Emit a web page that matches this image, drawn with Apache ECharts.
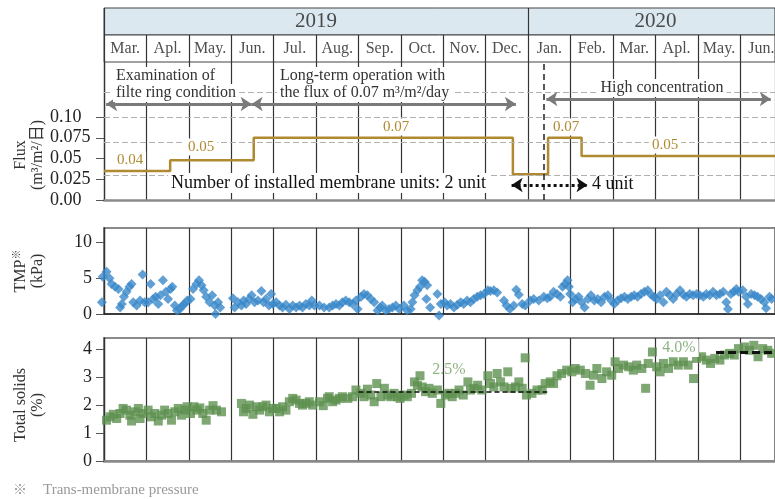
<!DOCTYPE html>
<html>
<head>
<meta charset="utf-8">
<script src="https://cdn.jsdelivr.net/npm/echarts@6/dist/echarts.min.js"></script>
<style>
  html, body { margin: 0; padding: 0; background: #fff; }
  #chart { width: 775px; height: 499px; }
</style>
</head>
<body>
<div id="chart"></div>
<script>
  // x unit = months from 2019 Mar. 1
  const MAXM = 15.82;
  const years = ['2019', '2020'];
  const yearCenters = [5, 13];
  const months = ['Mar.', 'Apl.', 'May.', 'Jun.', 'Jul.', 'Aug.', 'Sep.', 'Oct.', 'Nov.', 'Dec.',
                  'Jan.', 'Feb.', 'Mar.', 'Apl.', 'May.', 'Jun.'];

  // flux step line (m3/m2/day)
  const fluxX = [0, 1.56, 3.53, 9.64, 10.47, 11.26, 15.82];
  const fluxV = [0.035, 0.048, 0.075, 0.031, 0.075, 0.053, 0.053];
  const fluxTicks = [0, 0.025, 0.05, 0.075, 0.1];
  const fluxTickText = ['0.00', '0.025', '0.05', '0.075', '0.10'];

  // TMP (kPa)
  const tmpPoints = [
    [-0.05,1.65],[-0.03,5.2],[0.06,5.9],[0.13,5.0],[0.18,4.2],[0.26,3.8],[0.34,3.5],[0.38,0.9],[0.42,1.4],
    [0.47,2.4],[0.53,3.1],[0.60,3.8],[0.65,4.2],[0.69,1.65],[0.77,1.2],[0.85,1.9],[0.91,5.5],[0.96,1.65],
    [1.04,1.65],[1.10,4.2],[1.16,2.1],[1.22,2.4],[1.28,1.4],[1.33,2.6],[1.39,4.7],[1.46,3.1],[1.51,2.1],
    [1.57,3.5],[1.61,3.8],[1.67,1.2],[1.72,0.5],[1.79,0.7],[1.85,1.2],[1.90,1.4],[1.96,1.9],
    [2.04,2.1],[2.10,3.5],[2.18,4.2],[2.24,4.7],[2.30,4.0],[2.35,3.3],[2.41,2.4],[2.49,1.65],[2.55,2.6],
    [2.61,1.2],[2.63,0],[2.69,1.65],[2.74,0.9],
    [3.04,2.2],[3.08,0.9],[3.16,1.65],[3.24,1.2],[3.29,1.9],[3.35,1.4],[3.42,2.1],[3.48,2.6],[3.55,1.65],
    [3.63,1.9],[3.71,3.2],[3.76,1.65],[3.82,2.1],[3.89,1.2],[3.94,2.8],[3.98,1.4],
    [4.06,1.65],[4.14,1.2],[4.21,0.9],[4.29,1.3],[4.37,0.7],[4.45,1.2],[4.53,0.9],[4.61,1.2],[4.68,0.9],
    [4.76,1.4],[4.84,1.2],[4.90,1.9],[4.96,1.2],
    [5.08,1.2],[5.19,0.9],[5.31,0.9],[5.39,1.2],[5.47,1.4],[5.55,1.2],[5.62,1.65],[5.70,1.9],[5.78,1.65],
    [5.86,1.4],[5.94,1.9],[5.98,0.7],
    [6.06,2.4],[6.13,2.8],[6.21,2.6],[6.29,2.1],[6.37,1.65],[6.45,0.5],[6.51,0.9],[6.56,1.2],[6.64,0.5],
    [6.72,0.7],[6.80,0.9],[6.88,1.2],[6.96,0.7],
    [7.07,1.2],[7.15,0.5],[7.23,0.7],[7.27,1.65],[7.32,2.6],[7.39,3.3],[7.45,3.8],[7.50,4.7],[7.56,4.5],
    [7.62,4.0],[7.60,2.1],[7.69,0.9],[7.86,2.8],[7.90,-0.2],[7.94,1.4],
    [8.03,1.65],[8.09,1.2],[8.17,1.4],[8.25,0.9],[8.33,1.3],[8.41,1.65],[8.48,1.4],[8.56,1.9],[8.64,1.65],
    [8.72,2.1],[8.80,2.4],[8.88,2.6],[8.96,2.8],
    [9.05,3.3],[9.11,3.2],[9.19,3.3],[9.27,3.0],[9.43,1.9],[9.49,1.2],[9.57,0.7],[9.66,1.2],[9.72,3.4],
    [9.78,2.7],[9.86,1.4],[9.93,1.2],
    [10.05,1.9],[10.13,2.1],[10.25,1.9],[10.37,2.4],[10.45,2.2],[10.52,2.4],[10.60,3.1],[10.68,2.8],
    [10.76,2.4],[10.81,3.8],[10.87,4.2],[10.93,4.7],[10.96,3.8],[10.99,2.8],
    [11.05,1.65],[11.11,2.1],[11.19,2.4],[11.26,1.65],[11.33,0.9],[11.41,2.1],[11.48,2.6],[11.56,1.9],
    [11.64,2.1],[11.72,1.65],[11.80,2.4],[11.88,2.6],[11.96,1.9],
    [12.03,1.4],[12.11,1.9],[12.19,2.2],[12.27,2.4],[12.35,2.1],[12.43,2.4],[12.50,2.6],[12.58,2.4],
    [12.66,2.8],[12.74,3.1],[12.82,3.3],[12.90,2.7],[12.96,2.4],
    [13.03,2.1],[13.11,2.6],[13.19,1.65],[13.26,3.1],[13.34,2.6],[13.42,2.1],[13.50,2.8],[13.58,3.3],
    [13.66,2.7],[13.73,2.4],[13.81,2.8],[13.89,2.6],[13.97,2.8],
    [14.05,2.6],[14.13,2.4],[14.20,2.8],[14.28,2.6],[14.36,3.1],[14.44,2.6],[14.52,2.8],[14.60,3.1],
    [14.67,1.65],[14.71,0.7],[14.78,2.8],[14.85,3.1],[14.91,3.5],[14.96,3.1],
    [15.06,3.3],[15.14,2.4],[15.18,1.4],[15.26,2.8],[15.34,2.6],[15.41,2.4],[15.49,2.1],[15.57,1.65],
    [15.61,0.8],[15.69,2.4],[15.74,2.1]
  ];
  const tmpTicks = [0, 5, 10];

  // Total solids (%)
  const tsPoints = [
    [0.06,1.46],[0.14,1.58],[0.22,1.67],[0.30,1.52],[0.38,1.70],[0.45,1.88],[0.53,1.82],[0.61,1.64],
    [0.65,1.43],[0.73,1.76],[0.81,1.88],[0.85,1.52],[0.92,1.70],
    [1.04,1.82],[1.12,1.58],[1.20,1.70],[1.28,1.43],[1.36,1.64],[1.43,1.82],[1.51,1.70],[1.59,1.46],
    [1.67,1.76],[1.75,1.88],[1.83,1.64],[1.90,1.82],[1.96,1.94],
    [2.04,1.70],[2.12,1.94],[2.19,1.82],[2.26,1.90],[2.33,1.70],[2.41,1.46],[2.49,1.82],[2.57,1.98],
    [2.65,1.82],[2.77,1.76],
    [3.24,2.06],[3.29,1.76],[3.35,1.88],[3.43,2.00],[3.51,1.67],[3.59,1.94],[3.67,1.82],[3.74,1.94],
    [3.82,2.00],[3.90,1.76],[3.98,1.88],
    [4.06,1.88],[4.14,1.76],[4.21,1.94],[4.29,1.82],[4.37,2.12],[4.45,2.24],[4.53,2.18],[4.61,2.06],
    [4.68,2.00],[4.76,2.06],[4.84,2.12],[4.92,2.00],
    [5.08,2.12],[5.17,1.98],[5.27,2.24],[5.31,2.30],[5.39,2.12],[5.47,2.18],[5.55,2.24],[5.62,2.30],
    [5.75,2.24],[5.86,2.30],[5.94,2.54],
    [6.06,2.42],[6.13,2.30],[6.21,2.57],[6.29,2.36],[6.37,2.12],[6.43,2.77],[6.53,2.30],[6.61,2.60],
    [6.69,2.36],[6.76,2.30],[6.84,2.42],[6.92,2.30],[6.98,2.24],
    [7.07,2.36],[7.15,2.30],[7.25,2.42],[7.32,2.83],[7.39,2.71],[7.45,3.05],[7.50,2.65],[7.58,2.48],
    [7.66,2.60],[7.74,2.42],[7.86,2.54],[7.94,2.06],
    [8.05,2.36],[8.13,2.42],[8.21,2.30],[8.29,2.42],[8.37,2.54],[8.47,2.36],[8.58,2.83],[8.64,2.54],
    [8.72,2.60],[8.81,2.71],[8.91,2.54],
    [9.05,3.05],[9.11,2.77],[9.19,2.65],[9.27,3.13],[9.35,2.83],[9.43,2.65],[9.52,3.19],[9.60,2.60],
    [9.70,2.65],[9.78,2.83],[9.86,2.60],[9.93,3.69],[9.96,2.36],
    [10.09,2.42],[10.21,2.54],[10.33,2.54],[10.40,2.77],[10.52,2.83],[10.60,2.77],[10.68,3.05],
    [10.79,3.13],[10.91,3.25],
    [11.03,3.19],[11.11,3.31],[11.23,3.25],[11.35,3.13],[11.46,2.71],[11.54,3.07],[11.62,3.31],
    [11.74,2.95],[11.85,3.19],[11.97,3.07],
    [12.05,3.55],[12.13,3.31],[12.25,3.43],[12.37,3.37],[12.48,3.25],[12.56,3.43],[12.68,3.31],
    [12.77,2.60],[12.83,3.49],[12.93,3.90],
    [13.03,3.37],[13.11,3.19],[13.19,3.49],[13.31,3.31],[13.42,3.55],[13.54,3.43],[13.66,3.55],
    [13.77,3.43],[13.90,2.95],[13.97,3.67],
    [14.09,3.73],[14.20,3.61],[14.30,3.49],[14.40,3.67],[14.52,3.61],[14.63,3.79],[14.75,3.85],
    [14.86,3.79],[14.96,4.02],
    [15.10,4.08],[15.22,3.96],[15.32,4.14],[15.42,3.73],[15.53,4.02],[15.65,3.96],[15.74,3.85]
  ];
  const tsTicks = [0, 1, 2, 3, 4];
  const tsMeanLines = [[6.0, 10.45, 2.47], [14.43, MAXM, 3.89]];

  const SERIF = "'Liberation Serif', 'Noto Sans CJK JP', serif";
  const LINE = '#333';
  const FRAME = '#8a8a8a';

  let chart = echarts.init(document.getElementById('chart'));

  function xAx(grid, interval, axisLine) {
    return {
      type: 'value', gridIndex: grid, min: 0, max: MAXM, interval: interval,
      axisLabel: { show: false }, axisTick: { show: false },
      axisLine: axisLine || { show: false },
      splitLine: { show: true, lineStyle: { color: LINE, width: 1.2 } }
    };
  }

  function yAx(grid, max, ticks, fmt, margin, align) {
    return {
      type: 'value', gridIndex: grid, min: 0, max: max,
      splitLine: { show: false },
      axisLine: { show: true, lineStyle: { color: LINE, width: 1.3 } },
      axisTick: { show: true, length: 8, customValues: ticks, lineStyle: { color: '#555' } },
      axisLabel: {
        customValues: ticks, formatter: fmt, margin: margin, align: align,
        fontFamily: 'Liberation Serif', fontSize: 18, color: '#222'
      }
    };
  }

  function txt(x, y, text, opt) {
    return {
      type: 'text', x: x, y: y, z: 100,
      style: Object.assign({
        text: text, fill: '#333', font: '16px ' + SERIF,
        textAlign: 'left', textVerticalAlign: 'middle'
      }, opt || {})
    };
  }

  const white = { backgroundColor: '#fff', padding: [1, 3] };
  const fluxColor = '#b08a30';
  const arrowStyle = { color: '#7a7a7a', width: 3, type: 'solid' };

  let option = {
    animation: false,
    grid: [
      { left: 104, right: -2, top: 8, height: 27, show: true, backgroundColor: '#dce8f0', borderColor: '#444', borderWidth: 1 },
      { left: 104, right: -2, top: 35, height: 27, show: true, backgroundColor: '#fff', borderColor: '#444', borderWidth: 1 },
      { left: 104, right: -2, top: 62, height: 138 },
      { left: 104, right: -2, top: 228, height: 86, show: true, borderColor: FRAME, borderWidth: 2 },
      { left: 104, right: -2, top: 338, height: 123, show: true, borderColor: FRAME, borderWidth: 2 }
    ],
    xAxis: [
      xAx(0, 10),
      xAx(1, 1),
      xAx(2, 1, { show: true, lineStyle: { color: FRAME, width: 2.5 } }),
      xAx(3, 1, { show: true, lineStyle: { color: '#222', width: 1.5 } }),
      xAx(4, 1, { show: true, lineStyle: { color: FRAME, width: 2.5 } })
    ],
    yAxis: [
      { type: 'value', gridIndex: 0, min: 0, max: 1, show: false },
      { type: 'value', gridIndex: 1, min: 0, max: 1, show: false },
      yAx(2, 0.1663, fluxTicks, v => fluxTickText[fluxTicks.findIndex(t => Math.abs(t - v) < 1e-6)] || '', 54, 'left'),
      yAx(3, 12, tmpTicks, v => String(v), 12, 'right'),
      yAx(4, 4.4, tsTicks, v => String(v), 12, 'right')
    ],
    series: [
      {
        type: 'scatter', xAxisIndex: 0, yAxisIndex: 0, symbolSize: 0, silent: true,
        data: years.map((y, i) => ({ value: [yearCenters[i], 0.5], name: y })),
        label: { show: true, position: 'inside', formatter: '{b}', fontFamily: SERIF, fontSize: 21, color: '#222' }
      },
      {
        type: 'scatter', xAxisIndex: 1, yAxisIndex: 1, symbolSize: 0, silent: true,
        data: months.map((m, i) => ({ value: [i + 0.5, 0.5], name: m })),
        label: { show: true, position: 'inside', formatter: '{b}', fontFamily: SERIF, fontSize: 16, color: '#222' }
      },
      {
        type: 'line', xAxisIndex: 2, yAxisIndex: 2, step: 'end', showSymbol: false, silent: true,
        data: fluxX.map((x, i) => [x, fluxV[i]]),
        lineStyle: { color: fluxColor, width: 2.5 },
        markLine: {
          silent: true, symbol: 'none', label: { show: false },
          lineStyle: { color: '#b0b0b0', type: [6, 3], width: 1 },
          data: [
            { yAxis: 0.1337 }, { yAxis: 0.1 }, { yAxis: 0.0687 }, { yAxis: 0.0325 },
            [{ coord: [10.36, 0], lineStyle: { color: '#222', type: [6, 4], width: 1.5 } }, { coord: [10.36, 0.1663] }],
            [{ coord: [0.05, 0.1157], symbol: 'arrow', symbolSize: 11, lineStyle: arrowStyle }, { coord: [3.48, 0.1157], symbol: 'arrow', symbolSize: 11 }],
            [{ coord: [3.48, 0.1157], symbol: 'arrow', symbolSize: 11, lineStyle: arrowStyle }, { coord: [9.71, 0.1157], symbol: 'arrow', symbolSize: 11 }],
            [{ coord: [10.43, 0.1217], symbol: 'arrow', symbolSize: 11, lineStyle: arrowStyle }, { coord: [15.72, 0.1217], symbol: 'arrow', symbolSize: 11 }],
            [{ coord: [9.61, 0.0181], symbol: 'arrow', symbolSize: 11, lineStyle: { color: '#111', width: 3, type: [3, 3] } }, { coord: [11.40, 0.0181], symbol: 'arrow', symbolSize: 11 }]
          ]
        }
      },
      {
        type: 'scatter', xAxisIndex: 3, yAxisIndex: 3, symbol: 'diamond', symbolSize: 10, clip: false,
        data: tmpPoints, itemStyle: { color: '#3a88c9' }
      },
      {
        type: 'scatter', xAxisIndex: 4, yAxisIndex: 4, symbol: 'rect', symbolSize: 9, clip: false,
        data: tsPoints, itemStyle: { color: '#5e9150' },
        markLine: {
          silent: true, symbol: 'none', label: { show: false },
          data: [
            [{ coord: [tsMeanLines[0][0], tsMeanLines[0][2]], lineStyle: { color: '#111', type: [5, 3], width: 1.5 } },
             { coord: [tsMeanLines[0][1], tsMeanLines[0][2]] }],
            [{ coord: [tsMeanLines[1][0], tsMeanLines[1][2]], lineStyle: { color: '#111', type: [8, 4], width: 3 } },
             { coord: [tsMeanLines[1][1], tsMeanLines[1][2]] }]
          ]
        }
      }
    ],
    graphic: [
      txt(113, 76, 'Examination of', white),
      txt(113, 93, 'filte ring condition', white),
      txt(277, 76, 'Long-term operation with', white),
      txt(277, 93, 'the flux of 0.07 m³/m²/day', white),
      txt(662, 88, 'High concentration', Object.assign({ textAlign: 'center' }, white)),
      txt(168, 183, 'Number of installed membrane units: 2 unit', Object.assign({ font: '18px ' + SERIF, fill: '#111' }, white)),
      txt(592, 184, '4 unit', { font: '18px ' + SERIF, fill: '#111' }),
      txt(130, 160, '0.04', Object.assign({ textAlign: 'center', fill: fluxColor, font: '15px ' + SERIF }, white)),
      txt(201, 147, '0.05', Object.assign({ textAlign: 'center', fill: fluxColor, font: '15px ' + SERIF }, white)),
      txt(396, 127, '0.07', Object.assign({ textAlign: 'center', fill: fluxColor, font: '15px ' + SERIF }, white)),
      txt(566, 127, '0.07', Object.assign({ textAlign: 'center', fill: fluxColor, font: '15px ' + SERIF }, white)),
      txt(665, 145, '0.05', Object.assign({ textAlign: 'center', fill: fluxColor, font: '15px ' + SERIF }, white)),
      txt(449, 370, '2.5%', { textAlign: 'center', fill: '#8fb383', font: '16px ' + SERIF }),
      txt(679, 348, '4.0%', Object.assign({ textAlign: 'center', fill: '#8fb383', font: '16px ' + SERIF }, white)),
      txt(29, 155, 'Flux\n(m³/m²/日)', { textAlign: 'center', lineHeight: 17 }),
      txt(29, 271, '{a|TMP}{s|※}\n{a|(kPa)}', {
        textAlign: 'center', lineHeight: 17,
        rich: { a: { font: '16px ' + SERIF, fill: '#333', lineHeight: 17 }, s: { font: '10px ' + SERIF, fill: '#333', verticalAlign: 'top', lineHeight: 17 } }
      }),
      txt(29, 405, 'Total solids\n(%)', { textAlign: 'center', lineHeight: 17 }),
      txt(13, 490, '※', { fill: '#999', font: '14px ' + SERIF }),
      txt(43, 490, 'Trans-membrane pressure', { fill: '#999', font: '15px ' + SERIF })
    ]
  };

  // rotate the y axis names
  [14, 15, 16].forEach(i => { option.graphic[i].rotation = Math.PI / 2; });

  chart.setOption(option);
</script>
</body>
</html>
